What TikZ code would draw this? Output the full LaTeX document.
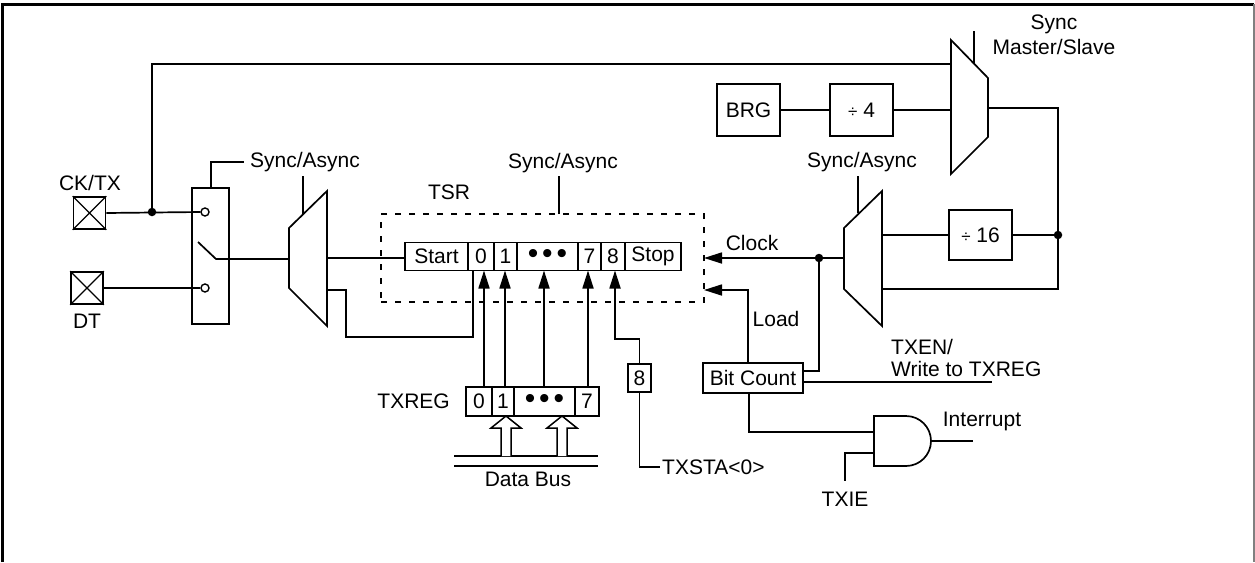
\documentclass[tikz,border=0pt]{standalone}
\usepackage{fontspec}
\setmainfont{Liberation Sans}
\usetikzlibrary{arrows.meta}
\newcommand\dfont{\fontsize{21}{23}\selectfont}
\newcommand\threedots{{\fontsize{30}{30}\selectfont\raisebox{-1pt}{•\hspace{4pt}•\hspace{4pt}•}}}
\begin{document}
\begin{tikzpicture}[x=1pt,y=-1pt,
  wire/.style={line width=1.7pt},
  arr/.style={wire,-{Triangle[length=18pt,width=11pt]}},
  box/.style={draw,line width=1.7pt,inner sep=0pt,font=\dfont},
  cell/.style={box,minimum height=28pt},
  lbl/.style={inner sep=0pt,font=\dfont},
  pinbox/.style={draw,line width=1.7pt,minimum width=32pt,minimum height=32pt,inner sep=0pt},
  contact/.style={circle,draw,fill=white,line width=1.4pt,minimum size=8pt,inner sep=0pt},
  dotn/.style={circle,fill,minimum size=8.5pt,inner sep=0pt},
  hollow/.style={line width=1.5pt,fill=white}]
\useasboundingbox (0,0) rectangle (1255,562);
% frame
\draw[line width=3pt] (2.5,562) -- (2.5,4) -- (1254,4);
\draw[line width=1.5pt,gray] (1254,4) -- (1254,562);

% pins
\node[pinbox] (ck) at (89.5,213) {};
\draw[line width=1.3pt] (ck.north west) -- (ck.south east) (ck.north east) -- (ck.south west);
\node[lbl] (cklbl) at (90,183) {CK/TX};
\node[pinbox] (dt) at (87,288) {};
\draw[line width=1.3pt] (dt.north west) -- (dt.south east) (dt.north east) -- (dt.south west);
\node[lbl] (dtlbl) at (87,321) {DT};

% switch
\node[box,minimum width=37pt,minimum height=136pt] (sw) at (210.5,256) {};
\node[contact] (k1) at (205,212) {};
\node[contact] (k2) at (205,288) {};
\node[dotn] (d1) at (152,212) {};
\draw[wire] (ck.east) -- (k1.west);
\draw[wire] (dt.east) -- (k2.west);
\coordinate (blA) at (198,242);
\coordinate (blB) at (216,259);
\coordinate (swsel) at (211,188);
\coordinate (swselE) at (244,162);
\node[lbl,anchor=west] (swlbl) at (250,162) {Sync/Async};
\draw[wire] (swsel) |- (swselE);

% top master/slave mux
\coordinate (m4a) at (951,40); \coordinate (m4b) at (988,78);
\coordinate (m4c) at (988,137); \coordinate (m4d) at (951,174);
\draw[wire] (m4a) -- (m4b) -- (m4c) -- (m4d) -- cycle;
\coordinate (m4in1) at (951,64);
\coordinate (m4in2) at (951,110);
\coordinate (m4out) at (988,108);
\coordinate (m4sel) at (974,63);
\coordinate (m4selT) at (974,31);
\draw[wire] (m4sel) -- (m4selT);
\node[lbl] (mslbl1) at (1054,24) {Sync};
\node[lbl] (mslbl2) at (1054,47) {Master/Slave};
\draw[wire] (d1.center) |- (m4in1);

% BRG and /4
\node[box,minimum width=63pt,minimum height=52pt] (brg) at (748.5,110) {BRG};
\node[box,minimum width=63pt,minimum height=52pt] (div4) at (861.5,110) {{\fontsize{17}{20}\selectfont÷} 4};
\draw[wire] (brg.east) -- (div4.west);
\draw[wire] (div4.east) -- (m4in2);

% left mux
\coordinate (m1a) at (289,228); \coordinate (m1b) at (327,191);
\coordinate (m1c) at (327,326); \coordinate (m1d) at (289,288);
\draw[wire] (m1a) -- (m1b) -- (m1c) -- (m1d) -- cycle;
\coordinate (m1in) at (289,259);
\coordinate (m1out) at (327,258);
\coordinate (m1out2) at (327,290);
\coordinate (m1sel) at (303,214);
\coordinate (m1selT) at (303,176);
\draw[wire] (m1sel) -- (m1selT);
\draw[wire] (blA) -- (blB) -- (m1in);

% TSR
\node[draw,dash pattern=on 6pt off 8pt,line width=1.5pt,minimum width=323pt,minimum height=88pt,inner sep=0pt] (tsr) at (542.5,258) {};
\node[lbl] (tsrlbl) at (449,192) {TSR};
\node[lbl] (tsrsync) at (563,163) {Sync/Async};
\coordinate (tsrsel) at (559,214);
\draw[wire] (tsrsel) -- (559,176);
\node[cell,minimum width=63pt] (start) at (436.5,256.5) {Start};
\node[cell,minimum width=26pt] (c0) at (481,256.5) {0};
\node[cell,minimum width=23pt] (c1) at (505.5,256.5) {1};
\node[cell,minimum width=61pt] (cd) at (547.5,256.5) {\threedots};
\node[cell,minimum width=23pt] (c7) at (589.5,256.5) {7};
\node[cell,minimum width=24pt] (c8) at (613,256.5) {8};
\node[cell,minimum width=56pt] (stop) at (653,256.5) {Stop};
\draw[wire] (m1out) -- (start.west |- m1out);
\coordinate (fb) at (473,270.5);
\draw[wire] (m1out2) -- (346,290) -- (346,337) -| (fb);

% TXREG
\node[cell,minimum width=26pt,minimum height=29pt] (t0) at (479,401.5) {0};
\node[cell,minimum width=22pt,minimum height=29pt] (t1) at (503,401.5) {1};
\node[cell,minimum width=61pt,minimum height=29pt] (td) at (544.5,401.5) {\threedots};
\node[cell,minimum width=24pt,minimum height=29pt] (t7) at (587,401.5) {7};
\node[lbl,anchor=east] (txreglbl) at (450,401.5) {TXREG};
\draw[arr] (484,387) -- (484,270.5);
\draw[arr] (505,387) -- (505,270.5);
\draw[arr] (544,387) -- (544,270.5);
\draw[arr] (588,387) -- (588,270.5);

% bit 8 from TXSTA
\node[cell,minimum width=23pt,minimum height=28pt] (b8) at (639.5,378) {8};
\draw[arr] (b8.north) |- (615,339) -- (615,270.5);
\coordinate (txstaE) at (660,467);
\draw[wire] (b8.south) |- (txstaE);
\node[lbl,anchor=west] (txstalbl) at (662,467) {TXSTA<0>};

% data bus
\draw[wire] (454,456) -- (598,456);
\draw[wire] (454,466) -- (598,466);
\node[lbl] (dblbl) at (528,479) {Data Bus};
\draw[hollow] (501,456) -- (501,428) -- (491,428) -- (506,416) -- (521,428) -- (511,428) -- (511,456);
\draw[hollow] (557,456) -- (557,428) -- (547,428) -- (562,416) -- (577,428) -- (567,428) -- (567,456);

% right clock mux
\coordinate (m3a) at (844,228); \coordinate (m3b) at (882,191);
\coordinate (m3c) at (882,326); \coordinate (m3d) at (844,289);
\draw[wire] (m3a) -- (m3b) -- (m3c) -- (m3d) -- cycle;
\coordinate (m3out) at (844,258);
\coordinate (m3in1) at (882,235);
\coordinate (m3in2) at (882,289);
\coordinate (m3sel) at (858,213);
\draw[wire] (m3sel) -- (858,176);
\node[lbl] (m3lbl) at (862,162) {Sync/Async};
\node[box,minimum width=63pt,minimum height=50pt] (div16) at (980.5,235) {{\fontsize{17}{20}\selectfont÷} 16};
\node[dotn] (d3) at (1058,235) {};
\draw[wire] (m3in1) -- (div16.west);
\draw[wire] (div16.east) -- (d3.center);
\draw[wire] (m4out) -| (d3.center);
\draw[wire] (m3in2) -| (d3.center);

% clock and load
\node[dotn] (d2) at (819,258) {};
\draw[wire] (m3out) -- (d2.center);
\coordinate (tclk) at (704,258);
\draw[arr] (d2.center) -- (tclk);
\node[lbl] (clklbl) at (752,243) {Clock};
\node[box,minimum width=100pt,minimum height=30pt] (bc) at (753,378) {Bit Count};
\coordinate (tload) at (704,290);
\draw[arr] (748,363) |- (tload);
\node[lbl] (loadlbl) at (776,319) {Load};
\draw[wire] (d2.center) |- (803,371);
\coordinate (txenE) at (992,382);
\draw[wire] (803,382) -- (txenE);
\node[lbl,anchor=west] (txen1) at (891,347) {TXEN/};
\node[lbl,anchor=west] (txen2) at (891,369) {Write to TXREG};

% AND gate
\draw[wire] (874,416) -- (906,416) arc[start angle=90,end angle=-90,radius=25pt] -- (874,466) -- cycle;
\coordinate (andin1) at (874,432);
\coordinate (andin2) at (874,453);
\coordinate (andout) at (931,441);
\draw[wire] (749,393) |- (andin1);
\draw[wire] (andin2) -| (845,481);
\node[lbl] (txielbl) at (845,499) {TXIE};
\draw[wire] (andout) -- (973,441);
\node[lbl] (intlbl) at (982,421) {Interrupt};
\end{tikzpicture}
\end{document}
